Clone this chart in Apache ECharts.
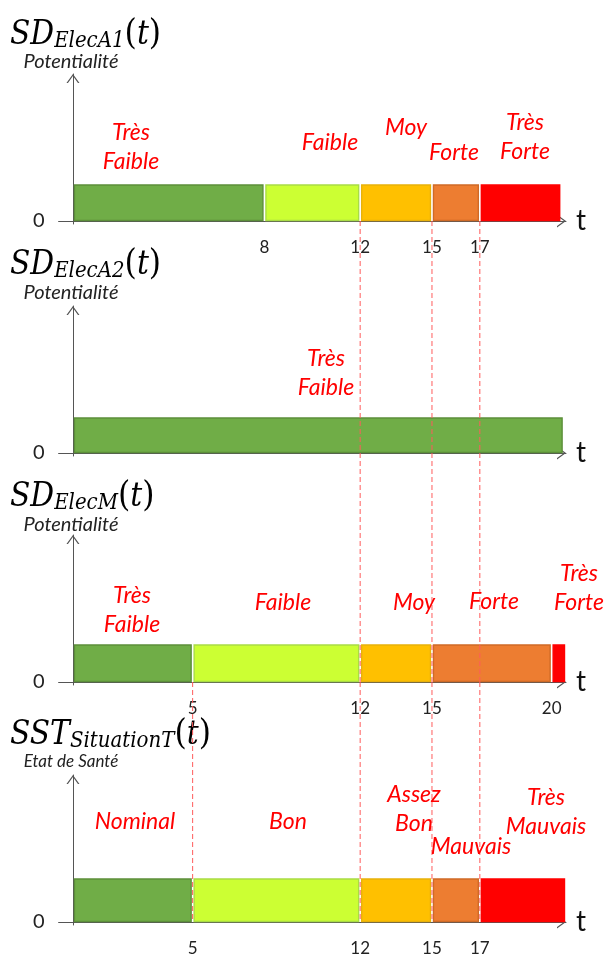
<!DOCTYPE html>
<html><head><meta charset="utf-8">
<script src="https://cdn.jsdelivr.net/npm/echarts@6/dist/echarts.min.js"></script>
<style>html,body{margin:0;padding:0;background:#fff}#c{width:607px;height:954px}</style>
</head><body><div id="c"></div>
<script>
// ---------------- data ----------------
const elecA1Bounds = [0, 8, 12, 15, 17, 20.4];
const elecA1Levels = [0, 1, 2, 3, 4];
const elecA1Names = ['Très Faible', 'Faible', 'Moy', 'Forte', 'Très Forte'];
const elecA1Ticks = [8, 12, 15, 17];

const elecA2Bounds = [0, 20.5];
const elecA2Levels = [0];
const elecA2Names = ['Très Faible'];
const elecA2Ticks = [];

const elecMBounds = [0, 5, 12, 15, 20, 20.6];
const elecMLevels = [0, 1, 2, 3, 4];
const elecMNames = ['Très Faible', 'Faible', 'Moy', 'Forte', 'Très Forte'];
const elecMTicks = [5, 12, 15, 20];

const situationBounds = [0, 5, 12, 15, 17, 20.6];
const situationLevels = [0, 1, 2, 3, 4];
const situationNames = ['Nominal', 'Bon', 'Assez Bon', 'Mauvais', 'Très Mauvais'];
const situationTicks = [5, 12, 15, 17];

const panelTitles = [['SD', 'ElecA1'], ['SD', 'ElecA2'], ['SD', 'ElecM'], ['SST', 'SituationT']];
const panelYNames = ['Potentialité', 'Potentialité', 'Potentialité', 'Etat de Santé'];
const zeroLabel = [0];

const guideX = [5, 12, 15, 17];
const guideFirstPanel = [2, 0, 0, 0];

// ---------------- layout / style ----------------
const axisY = [221, 453, 682, 922];
const barPx = [36, 35, 37, 43];
const titleY = [30, 260, 492, 730];
const yNameY = [62, 293, 525, 762];
const labelPos = [
  [[131, 147], [330, 143], [406, 128], [454, 153], [525, 137]],
  [[326, 373]],
  [[132, 610], [283, 603], [414, 603], [494, 602], [579, 588]],
  [[135, 822], [288, 822], [414, 809], [471, 847], [546, 812]]
];
const fills = ['#70AD47', '#CCFF33', '#FFC000', '#ED7D31', '#FF0000'];
const strokes = ['#5C8F3A', '#A9DC45', '#E8B10A', '#CF6A26', '#FF0000'];
const AX = '#555555';
const SANS = 'Lato, "Open Sans", "Noto Sans", sans-serif';
const SERIF = '"DejaVu Serif Condensed", "DejaVu Serif", serif';
const arrowPath = 'path://M0,9 L6.5,0 L13,9 L11.5,9 L6.5,2 L1.5,9 Z';

const panels = [
  {bounds: elecA1Bounds, levels: elecA1Levels, names: elecA1Names, ticks: elecA1Ticks},
  {bounds: elecA2Bounds, levels: elecA2Levels, names: elecA2Names, ticks: elecA2Ticks},
  {bounds: elecMBounds, levels: elecMLevels, names: elecMNames, ticks: elecMTicks},
  {bounds: situationBounds, levels: situationLevels, names: situationNames, ticks: situationTicks}
];

const grids = [], xAxes = [], yAxes = [], series = [], graphics = [];

panels.forEach((p, k) => {
  grids.push({left: 58.6, width: 507.4, top: axisY[k] - 147, height: 150, outerBoundsMode: 'none', containLabel: false});
  xAxes.push({
    type: 'value', gridIndex: k, min: -0.6, max: 20.6,
    axisLine: {onZero: true, lineStyle: {color: AX, width: 1}, symbol: ['none', arrowPath], symbolSize: [13, 9], symbolOffset: [0, -4.5]},
    axisTick: {show: false}, splitLine: {show: false},
    axisLabel: {show: p.ticks.length > 0, customValues: p.ticks, margin: 15, fontSize: 17, color: '#222', fontFamily: SANS},
    name: 't', nameLocation: 'end', nameGap: 10,
    nameTextStyle: {fontSize: 28, color: '#111', fontFamily: SANS, verticalAlign: 'middle', padding: [0, 0, 4, 0]}
  });
  yAxes.push({
    type: 'value', gridIndex: k, min: -3, max: 147,
    axisLine: {onZero: true, lineStyle: {color: AX, width: 1}, symbol: ['none', arrowPath], symbolSize: [13, 9], symbolOffset: [0, -4.5]},
    axisTick: {show: false}, splitLine: {show: false},
    axisLabel: {customValues: zeroLabel, margin: 14, fontSize: 20, color: '#222', fontFamily: SANS}
  });
  const segs = p.levels.map((lv, j) => [p.bounds[j], p.bounds[j + 1], lv]);
  series.push({
    type: 'custom', coordinateSystem: 'cartesian2d', xAxisIndex: k, yAxisIndex: k, z: 2,
    data: segs, encode: {x: [0, 1], y: 2},
    renderItem: (params, api) => {
      const s = api.coord([api.value(0), 0]);
      const e = api.coord([api.value(1), 0]);
      const lv = api.value(2);
      const h = barPx[k];
      return {type: 'rect', shape: {x: s[0] + 1.5, y: s[1] - h, width: e[0] - s[0] - 3, height: h - 0.5},
        style: {fill: fills[lv], stroke: strokes[lv], lineWidth: 1.4}};
    }
  });
  if (k > 0) {
    const gl = guideX.filter((x, j) => guideFirstPanel[j] <= k - 1);
    series.push({
      type: 'custom', coordinateSystem: 'cartesian2d', xAxisIndex: k, yAxisIndex: k, z: 5,
      data: gl.map(x => [x, 0]), encode: {x: 0, y: 1},
      renderItem: (params, api) => {
        const pt = api.coord([api.value(0), 0]);
        return {type: 'line', shape: {x1: pt[0], y1: axisY[k - 1], x2: pt[0], y2: pt[1]},
          style: {stroke: '#FF5C5C', lineWidth: 1, lineDash: [5, 3]}};
      }
    });
  }
  // title
  graphics.push({
    type: 'text', x: 10, y: titleY[k],
    style: {
      text: '{a|' + panelTitles[k][0] + '}{b|' + panelTitles[k][1] + '}{p|(}{a|t}{p|)}',
      verticalAlign: 'middle', align: 'left',
      rich: {
        a: {fontFamily: SERIF, fontStyle: 'italic', fontSize: 33, fill: '#000', verticalAlign: 'bottom', lineHeight: 42},
        b: {fontFamily: SERIF, fontStyle: 'italic', fontSize: 22, fill: '#000', verticalAlign: 'bottom', lineHeight: 35},
        p: {fontFamily: SERIF, fontSize: 35, fill: '#000', verticalAlign: 'bottom', lineHeight: 44}
      }
    }
  });
  graphics.push({
    type: 'text', x: 71, y: yNameY[k],
    style: {text: panelYNames[k], align: 'center', verticalAlign: 'middle',
      font: 'italic ' + (k === 3 ? 17 : 20) + 'px ' + SANS, fill: '#222'}
  });
  p.names.forEach((nm, j) => {
    const pos = labelPos[k][j];
    graphics.push({
      type: 'text', x: pos[0], y: pos[1], z: 10,
      style: {text: nm.replace(' ', '\n'), align: 'center', verticalAlign: 'middle',
        font: 'italic 23px ' + SANS, lineHeight: 29, fill: '#FF0000'}
    });
  });
});

const chart = echarts.init(document.getElementById('c'));
chart.setOption({
  animation: false,
  backgroundColor: '#fff',
  grid: grids, xAxis: xAxes, yAxis: yAxes, series: series,
  graphic: {elements: graphics}
});
</script></body></html>
